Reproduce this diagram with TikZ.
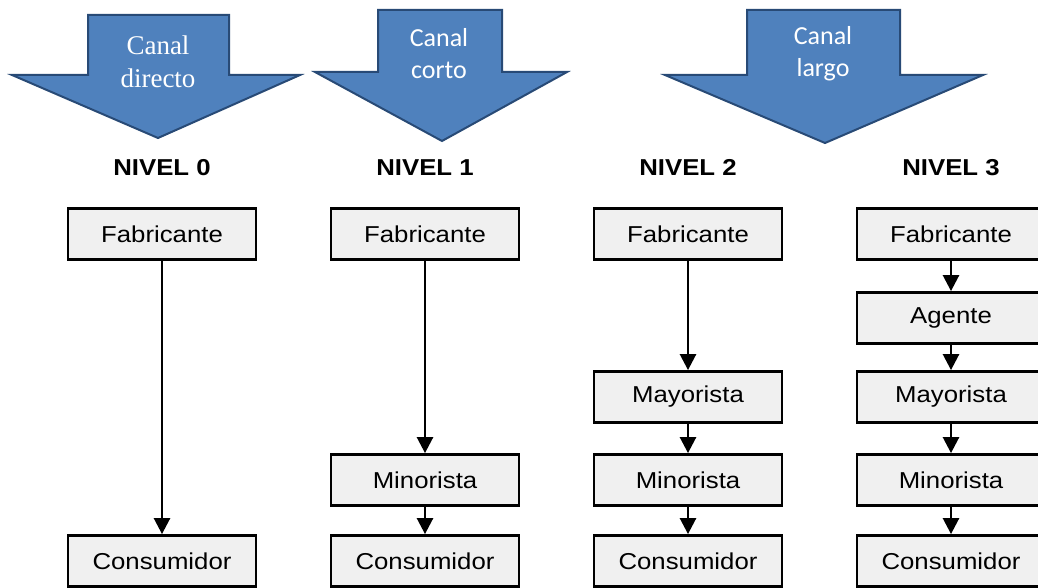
\documentclass[tikz,border=0pt]{standalone}
\usepackage{fontspec}
\usetikzlibrary{arrows.meta}
\newfontfamily\arialf[FakeStretch=1.12]{Liberation Sans}
\newfontfamily\calf{Carlito}
\newfontfamily\timesf{Liberation Serif}
\definecolor{arrowfill}{RGB}{79,129,189}
\definecolor{arrowline}{RGB}{40,74,118}
\definecolor{boxfill}{RGB}{240,240,240}
\begin{document}
\begin{tikzpicture}[x=1pt,y=-1pt,
  chanarrow/.style={fill=arrowfill,draw=arrowline,line width=2pt,line join=miter},
  chantext/.style={text=white,align=center,inner sep=0pt},
  levelbox/.style={draw=black,line width=2.8pt,fill=boxfill,minimum width=188pt,minimum height=51pt,inner sep=0pt,font=\arialf\fontsize{23}{26}\selectfont},
  levelhead/.style={font=\arialf\bfseries\fontsize{23}{26}\selectfont,inner sep=0pt,anchor=base},
  flow/.style={line width=2.6pt,-{Triangle[width=16pt,length=16pt]}}]
\useasboundingbox (0,0) rectangle (1038,588);
\clip (0,0) rectangle (1038,588);
\fill[white] (0,0) rectangle (1038,588);
% channel arrows
\draw[chanarrow] (88,15) -- (229,15) -- (229,75) -- (300,75) -- (158,138) -- (12,75) -- (88,75) -- cycle;
\node[chantext,font=\timesf\fontsize{27}{33}\selectfont] (cdir) at (158,62) {Canal\\directo};
\draw[chanarrow] (378,10) -- (502,10) -- (502,72) -- (567,72) -- (442,141) -- (315,72) -- (378,72) -- cycle;
\node[chantext,font=\calf\fontsize{26}{32}\selectfont] (ccor) at (439,54) {Canal\\corto};
\draw[chanarrow] (747,10) -- (900,10) -- (900,75) -- (983,75) -- (825,143) -- (665,75) -- (747,75) -- cycle;
\node[chantext,font=\calf\fontsize{26}{32}\selectfont] (clar) at (823,54) {Canal\\largo};
% headings
\node[levelhead] (h0) at (162,176) {NIVEL 0};
\node[levelhead] (h1) at (425,176) {NIVEL 1};
\node[levelhead] (h2) at (688,176) {NIVEL 2};
\node[levelhead] (h3) at (951,176) {NIVEL 3};
% level 0
\node[levelbox] (f0) at (162,234) {Fabricante};
\node[levelbox] (c0) at (162,561) {Consumidor};
\draw[flow] (f0) -- (c0);
% level 1
\node[levelbox] (f1) at (425,234) {Fabricante};
\node[levelbox] (m1) at (425,480) {Minorista};
\node[levelbox] (c1) at (425,561) {Consumidor};
\draw[flow] (f1) -- (m1);
\draw[flow] (m1) -- (c1);
% level 2
\node[levelbox] (f2) at (688,234) {Fabricante};
\node[levelbox] (y2) at (688,397) {Mayorista};
\node[levelbox] (m2) at (688,480) {Minorista};
\node[levelbox] (c2) at (688,561) {Consumidor};
\draw[flow] (f2) -- (y2);
\draw[flow] (y2) -- (m2);
\draw[flow] (m2) -- (c2);
% level 3
\node[levelbox] (f3) at (951,234) {Fabricante};
\node[levelbox] (a3) at (951,318) {Agente};
\node[levelbox] (y3) at (951,397) {Mayorista};
\node[levelbox] (m3) at (951,480) {Minorista};
\node[levelbox] (c3) at (951,561) {Consumidor};
\draw[flow] (f3) -- (a3);
\draw[flow] (a3) -- (y3);
\draw[flow] (y3) -- (m3);
\draw[flow] (m3) -- (c3);
\end{tikzpicture}
\end{document}
